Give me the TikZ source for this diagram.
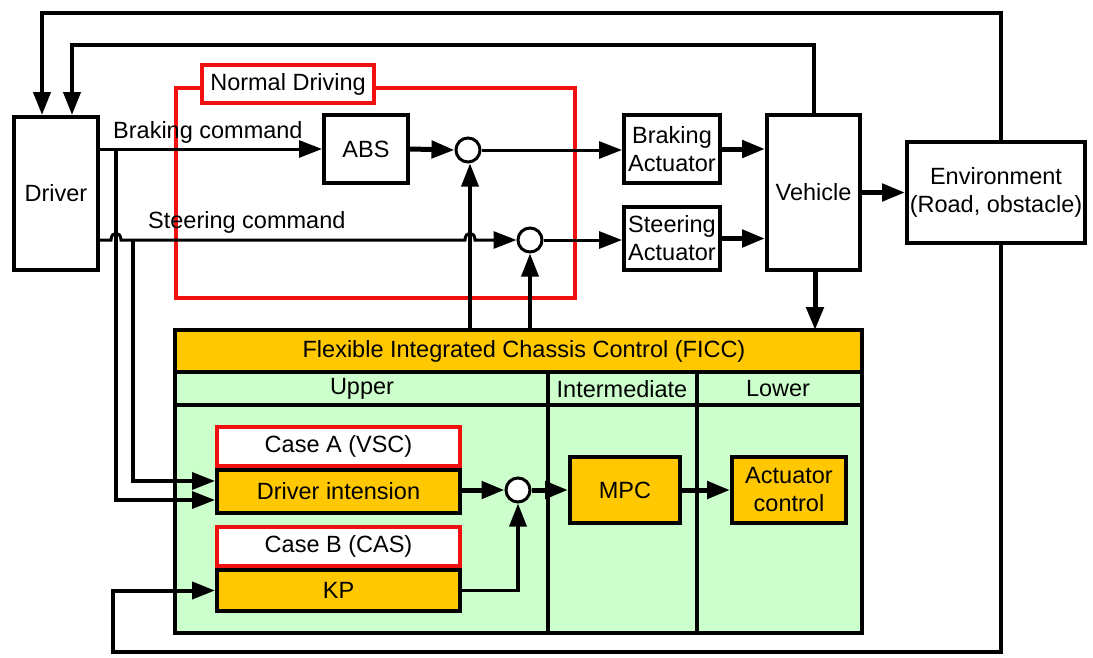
\documentclass[tikz,border=0pt]{standalone}
\usepackage{fontspec}
\setmainfont{Liberation Sans}
\usetikzlibrary{arrows.meta}
\definecolor{ficcor}{HTML}{FFC800}
\definecolor{lgreen}{HTML}{CCFFCC}
\definecolor{rd}{HTML}{F01010}
\newcommand{\lblfont}{\fontsize{23.5}{28}\selectfont}
\begin{document}
\begin{tikzpicture}[x=1pt,y=-1pt,
  box/.style={draw, line width=4pt, fill=white, inner sep=0pt, align=center, font=\lblfont},
  obox/.style={box, fill=ficcor},
  rbox/.style={box, draw=rd, line width=4.5pt},
  sumc/.style={draw, circle, line width=3pt, fill=white, minimum size=24pt, inner sep=0pt},
  tip/.style={-{Triangle[length=23pt,width=17pt]}},
  thinln/.style={line width=3pt},
  midln/.style={line width=3.5pt},
  loopln/.style={line width=4pt},
  thickln/.style={line width=5pt},
  txt/.style={font=\lblfont, inner sep=0pt}
]
\useasboundingbox (0,0) rectangle (1093,657);

% Normal driving frame
\draw[rd, line width=4pt] (176,88) rectangle (575,298);

% FICC block
\fill[lgreen] (175,330) rectangle (862,633);
\fill[ficcor] (175,330) rectangle (862,372);
\draw[line width=4pt] (175,372) -- (862,372);
\draw[line width=4pt] (175,405) -- (862,405);
\draw[line width=4pt] (548,372) -- (548,633);
\draw[line width=4pt] (697,372) -- (697,633);
\draw[line width=4.5pt] (175,330) rectangle (862,633);
\coordinate (ftop) at (518,330);
\node[txt] (ficct) at (524,351) {Flexible Integrated Chassis Control (FICC)};
\node[txt] (upper) at (362,389) {Upper};
\node[txt] (inter) at (622,389) {Intermediate};
\node[txt] (lower) at (778,389) {Lower};

% Nodes
\node[box, minimum width=84pt, minimum height=153pt] (drv) at (56,193.5) {Driver};
\node[box, minimum width=84pt, minimum height=68pt] (abs) at (366,149) {ABS};
\node[box, minimum width=96pt, minimum height=68pt] (ba) at (672,149) {Braking\\Actuator};
\node[box, minimum width=96pt, minimum height=63pt] (sa) at (672,238.5) {Steering\\Actuator};
\node[box, minimum width=93pt, minimum height=155pt] (veh) at (813.5,192.5) {Vehicle};
\node[box, minimum width=178pt, minimum height=101pt] (env) at (996,192.5) {Environment\\(Road, obstacle)};
\node[rbox, minimum width=172pt, minimum height=38pt] (nd) at (288,84) {Normal Driving};
\node[sumc] (c1) at (468,150) {};
\node[sumc] (c2) at (530,240) {};

\node[obox, minimum width=243pt, minimum height=43pt] (di) at (338.5,491.5) {Driver intension};
\node[rbox, minimum width=243pt, minimum height=39pt] (ca) at (338.5,446.5) {Case A (VSC)};
\node[obox, minimum width=243pt, minimum height=41pt] (kp) at (338.5,590.5) {KP};
\node[rbox, minimum width=243pt, minimum height=39pt] (cb) at (338.5,546.5) {Case B (CAS)};
\node[sumc] (c3) at (518,490) {};
\node[obox, minimum width=110pt, minimum height=66pt] (mpc) at (625,490) {MPC};
\node[obox, minimum width=114pt, minimum height=66pt] (ac) at (789,490) {Actuator\\control};

% Labels
\node[txt, anchor=west] (bcl) at (113,132) {Braking command};
\node[txt, anchor=west] (scl) at (148,222) {Steering command};

% Feedback loops
\draw[loopln, tip] ([xshift=5pt]env.north) |- (42,13) -- ([xshift=-14pt]drv.north);
\draw[loopln, tip] (veh.north) |- (72,45) -- ([xshift=16pt]drv.north);
\draw[loopln, tip] ([xshift=5pt]env.south) |- (113,652) |- (kp.west);

% Braking path
\draw[thinln, tip] (drv.east |- abs.west) -- (abs.west);
\draw[thickln, tip] (abs.east) -- (c1.west);
\draw[thinln, tip] (c1.east) -- (c1 -| ba.west);
\draw[thickln, tip] (ba.east) -- (ba.east -| veh.west);

% Steering path with hops
\draw[thinln, tip] (drv.east |- c2) -- (111,240) .. controls (111,231) and (121,231) .. (121,240)
   -- (465,240) .. controls (465,231) and (475,231) .. (475,240) -- (c2.west);
\draw[thinln, tip] (c2.east) -- (c2 -| sa.west);
\draw[thickln, tip] (sa.east) -- (sa.east -| veh.west);

% Vehicle outputs
\draw[thickln, tip] (veh.east) -- (env.west);
\draw[thickln, tip] ([xshift=1.5pt]veh.south) -- ([xshift=1.5pt]veh.south |- ftop);

% FICC to summing points
\draw[midln, tip] ([xshift=2pt]c1.south |- ftop) -- ([xshift=2pt]c1.south);
\draw[midln, tip] (c2.south |- ftop) -- (c2.south);

% Branches to driver intension
\draw[midln, tip] (116,150) |- ([yshift=-8.5pt]di.west);
\draw[midln, tip] (133,240) |- ([yshift=10.5pt]di.west);

% Internal FICC flow
\draw[thickln, tip] (di.east |- c3) -- (c3.west);
\draw[thickln, tip] (c3.east) -- (mpc.west |- c3);
\draw[midln, tip] (kp.east) -| (c3.south);
\draw[thickln, tip] (mpc.east) -- (ac.west);
\end{tikzpicture}
\end{document}
